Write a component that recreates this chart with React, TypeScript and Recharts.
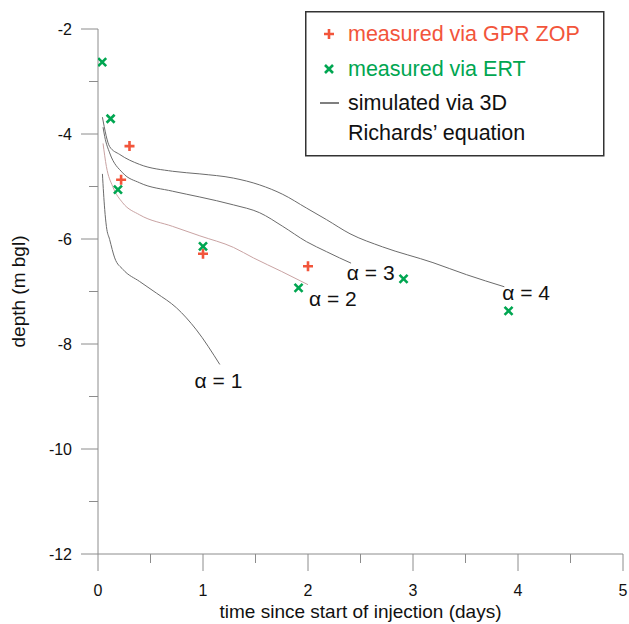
import React from 'react';
import { ComposedChart, Line, Scatter, XAxis, YAxis, Legend, ReferenceDot, Label } from 'recharts';

// measured infiltration front (days, m bgl)
const gprTime = [0.3, 0.22, 1.0, 2.0];
const gprDepth = [-4.23, -4.87, -6.28, -6.52];
const ertTime = [0.04, 0.12, 0.19, 1.0, 1.91, 2.91, 3.91];
const ertDepth = [-2.63, -3.71, -5.06, -6.14, -6.93, -6.76, -7.37];

// simulated fronts for different alpha
const alpha1Time = [0.042, 0.064, 0.08, 0.111, 0.159, 0.238, 0.397, 0.556, 0.747, 0.937, 1.16];
const alpha1Depth = [-4.76, -5.44, -5.76, -6.01, -6.36, -6.58, -6.81, -7.03, -7.31, -7.73, -8.39];
const alpha2Time = [0.048, 0.08, 0.14, 0.235, 0.397, 0.711, 0.97, 1.29, 1.48, 1.75, 2.0];
const alpha2Depth = [-4.18, -4.62, -5.0, -5.31, -5.54, -5.76, -5.94, -6.16, -6.36, -6.62, -6.87];
const alpha3Time = [0.048, 0.064, 0.111, 0.235, 0.397, 0.711, 0.97, 1.29, 1.54, 1.76, 1.985, 2.175, 2.3, 2.41];
const alpha3Depth = [-3.87, -4.05, -4.36, -4.74, -4.93, -5.09, -5.2, -5.35, -5.5, -5.76, -6.05, -6.24, -6.36, -6.46];
const alpha4Time = [0.042, 0.111, 0.207, 0.397, 0.711, 0.97, 1.29, 1.54, 1.76, 1.985, 2.175, 2.4, 2.71, 3.19, 3.51, 3.87];
const alpha4Depth = [-3.68, -4.24, -4.39, -4.58, -4.71, -4.76, -4.84, -4.97, -5.15, -5.41, -5.63, -5.9, -6.15, -6.45, -6.68, -6.91];

const alphaLabels = ['α = 1', 'α = 2', 'α = 3', 'α = 4'];
const alphaLabelTime = [0.92, 2.01, 2.37, 3.85];
const alphaLabelDepth = [-8.83, -7.27, -6.79, -7.16];

const xTicks = [0, 0.5, 1, 1.5, 2, 2.5, 3, 3.5, 4, 4.5, 5];
const yTicks = [-12, -11, -10, -9, -8, -7, -6, -5, -4, -3, -2];

const zip = (t: number[], d: number[]) => t.map((v, i) => ({ t: v, d: d[i] }));

const gprData = zip(gprTime, gprDepth);
const ertData = zip(ertTime, ertDepth);
const curves = [
  { name: 'a1', data: zip(alpha1Time, alpha1Depth), color: '#6b6b6b' },
  { name: 'a2', data: zip(alpha2Time, alpha2Depth), color: '#c9a3a3' },
  { name: 'a3', data: zip(alpha3Time, alpha3Depth), color: '#6b6b6b' },
  { name: 'a4', data: zip(alpha4Time, alpha4Depth), color: '#6b6b6b' },
];

const RED = '#f2553b';
const GREEN = '#00a651';
const AXIS = '#8c8c8c';
const FONT = '"Liberation Sans", Arial, sans-serif';

const Plus = ({ cx, cy }: any) => (
  <path d={`M${cx - 5},${cy}H${cx + 5}M${cx},${cy - 5}V${cy + 5}`} stroke={RED} strokeWidth={2.6} fill="none" />
);
const Cross = ({ cx, cy }: any) => (
  <path d={`M${cx - 4},${cy - 4}L${cx + 4},${cy + 4}M${cx - 4},${cy + 4}L${cx + 4},${cy - 4}`} stroke={GREEN} strokeWidth={2.6} fill="none" />
);

const YTick = ({ x, y, payload }: any) => {
  const major = Math.abs(payload.value) % 2 === 0;
  return (
    <g>
      <line x1={x - (major ? 17 : 9)} x2={x} y1={y} y2={y} stroke={AXIS} />
      {major && (
        <text x={x - 26} y={y} textAnchor="end" dominantBaseline="central" fontSize={16} fontFamily={FONT} fill="#111">
          {payload.value}
        </text>
      )}
    </g>
  );
};

const XTick = ({ x, y, payload }: any) => {
  const major = Number.isInteger(payload.value);
  return (
    <g>
      <line x1={x} x2={x} y1={y} y2={y + (major ? 17 : 9)} stroke={AXIS} />
      {major && (
        <text x={x} y={y + 36} textAnchor="middle" dominantBaseline="central" fontSize={16} fontFamily={FONT} fill="#111">
          {payload.value}
        </text>
      )}
    </g>
  );
};

const LegendBox = () => (
  <svg width={300} height={146} style={{ display: 'block' }}>
    <rect x={0.75} y={0.75} width={298} height={144} fill="#fff" stroke="#333" strokeWidth={1.5} />
    <Plus cx={24} cy={23} />
    <text x={43} y={23} dominantBaseline="central" fontSize={21.5} fontFamily={FONT} fill={RED}>measured via GPR ZOP</text>
    <Cross cx={24} cy={58} />
    <text x={43} y={58} dominantBaseline="central" fontSize={21.5} fontFamily={FONT} fill={GREEN}>measured via ERT</text>
    <line x1={15} x2={34} y1={92} y2={92} stroke="#555" strokeWidth={1.5} />
    <text x={43} y={92} dominantBaseline="central" fontSize={21.5} fontFamily={FONT} fill="#111">simulated via 3D</text>
    <text x={43} y={122} dominantBaseline="central" fontSize={21.5} fontFamily={FONT} fill="#111">Richards’ equation</text>
  </svg>
);

export default function App() {
  return (
    <div style={{ position: 'absolute', left: 0, top: 0, background: '#fff' }}>
      <ComposedChart width={629} height={624} margin={{ top: 29, right: 6, left: 0, bottom: 0 }}>
        <XAxis
          dataKey="t"
          type="number"
          domain={[0, 5]}
          ticks={xTicks}
          interval={0}
          allowDataOverflow
          height={70}
          stroke={AXIS}
          tickSize={0}
          tickMargin={0}
          tickLine={false}
          tick={<XTick />}
        >
          <Label
            content={({ viewBox }: any) => (
              <text x={viewBox.x + viewBox.width / 2} y={viewBox.y + 57} textAnchor="middle" dominantBaseline="central" fontSize={19} fontFamily={FONT} fill="#111">
                time since start of injection (days)
              </text>
            )}
          />
        </XAxis>
        <YAxis
          dataKey="d"
          type="number"
          domain={[-12, -2]}
          ticks={yTicks}
          interval={0}
          allowDataOverflow
          width={98}
          stroke={AXIS}
          tickSize={0}
          tickMargin={0}
          tickLine={false}
          tick={<YTick />}
        >
          <Label
            content={({ viewBox }: any) => {
              const cx = 18;
              const cy = viewBox.y + viewBox.height / 2;
              return (
                <text x={cx} y={cy} transform={`rotate(-90 ${cx} ${cy})`} textAnchor="middle" dominantBaseline="central" fontSize={19} fontFamily={FONT} fill="#111">
                  depth (m bgl)
                </text>
              );
            }}
          />
        </YAxis>
        {curves.map((c) => (
          <Line
            key={c.name}
            data={c.data}
            dataKey="d"
            type="monotone"
            stroke={c.color}
            strokeWidth={1}
            dot={false}
            activeDot={false}
            isAnimationActive={false}
          />
        ))}
        <Scatter data={gprData} dataKey="d" shape={<Plus />} isAnimationActive={false} />
        <Scatter data={ertData} dataKey="d" shape={<Cross />} isAnimationActive={false} />
        {alphaLabels.map((txt, i) => (
          <ReferenceDot
            key={txt}
            x={alphaLabelTime[i]}
            y={alphaLabelDepth[i]}
            r={0}
            fill="none"
            stroke="none"
            label={{
              content: ({ viewBox }: any) => (
                <text x={viewBox.x} y={viewBox.y} fontSize={21} fontFamily={FONT} fill="#111">
                  {txt}
                </text>
              ),
            }}
          />
        ))}
        <Legend
          layout="horizontal"
          verticalAlign="middle"
          align="center"
          content={<LegendBox />}
          wrapperStyle={{ position: 'absolute', left: 305, top: 11, width: 300, height: 146 }}
        />
      </ComposedChart>
    </div>
  );
}
